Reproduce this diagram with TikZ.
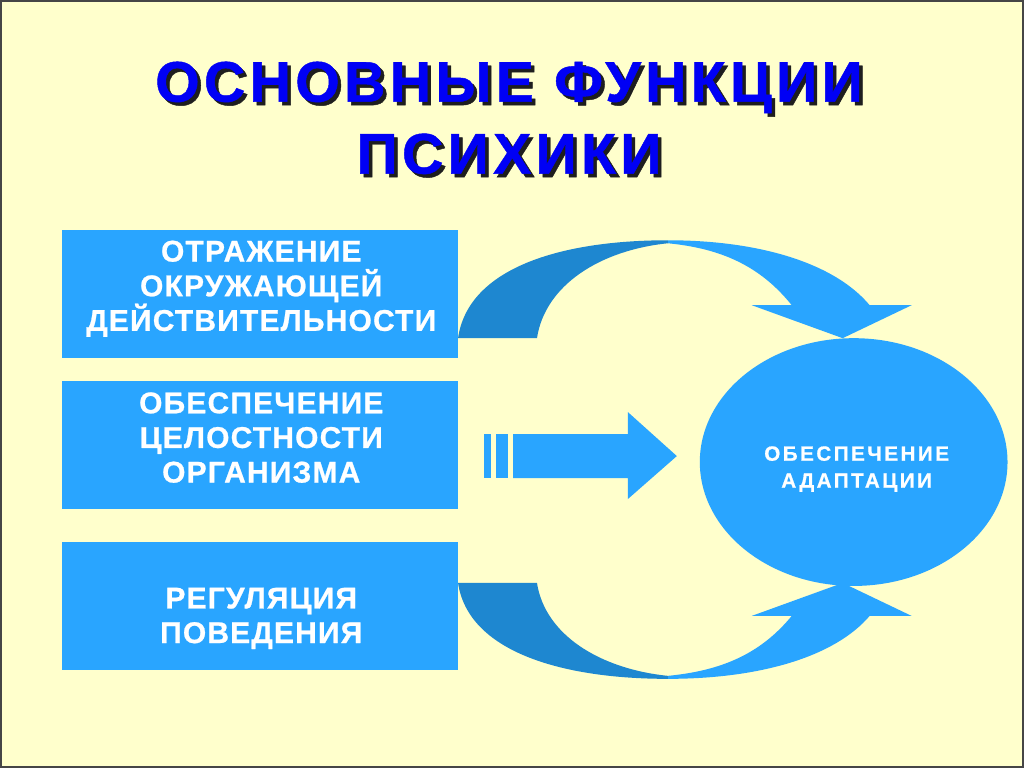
\documentclass[tikz,border=0pt]{standalone}
\usepackage{fontspec}
\setmainfont{Liberation Sans}
\newfontfamily\titlefont{Liberation Sans}[LetterSpace=7.5, BoldFeatures={FakeBold=0.8}]
\newfontfamily\boxfont{Liberation Sans}[LetterSpace=4, BoldFeatures={FakeBold=0.8}]
\newfontfamily\ellfont{Liberation Sans}[LetterSpace=12, BoldFeatures={FakeBold=0.8}]
\usetikzlibrary{shapes.geometric}
\definecolor{bg}{RGB}{255,255,204}
\definecolor{boxblue}{RGB}{41,165,255}
\definecolor{darkblue}{RGB}{30,135,208}
\definecolor{titleblue}{RGB}{0,0,245}
\definecolor{shadowc}{RGB}{30,30,30}
\definecolor{framec}{RGB}{70,70,70}
\tikzset{
  funcbox/.style={rectangle, fill=boxblue, draw=none, inner sep=0pt, minimum width=297pt, minimum height=96pt},
  boxtext/.style={text=white, align=center, font=\boxfont\bfseries\fontsize{22.5pt}{26pt}\selectfont, inner sep=0pt},
  titletext/.style={align=center, font=\titlefont\bfseries\fontsize{43pt}{54pt}\selectfont, inner sep=0pt},
  ribbonlight/.style={fill=boxblue, draw=none},
  ribbondark/.style={fill=darkblue, draw=none}
}
\begin{document}
\begin{tikzpicture}[x=0.75pt, y=-0.75pt]
% background and frame
\fill[bg] (0,0) rectangle (1024,768);
\draw[framec, line width=1.5pt] (0.5,0.5) rectangle (1023.5,767.5);
\useasboundingbox (0,0) rectangle (1024,768);

% title with shadow
\node[titletext, text=shadowc] (titleshadow) at (512.5,121) {ОСНОВНЫЕ ФУНКЦИИ\\ПСИХИКИ};
\node[titletext, text=titleblue] (title) at (509,117.5) {ОСНОВНЫЕ ФУНКЦИИ\\ПСИХИКИ};

% boxes
\node[funcbox] (b1) at (260,294) {};
\node[funcbox] (b2) at (260,445) {};
\node[funcbox] (b3) at (260,606.5) {};
\node[boxtext] (t1) at (261,288.5) {ОТРАЖЕНИЕ\\ОКРУЖАЮЩЕЙ\\ДЕЙСТВИТЕЛЬНОСТИ};
\node[boxtext] (t2) at (261,437.5) {ОБЕСПЕЧЕНИЕ\\ЦЕЛОСТНОСТИ\\ОРГАНИЗМА};
\node[boxtext] (t3) at (261,618.5) {РЕГУЛЯЦИЯ\\ПОВЕДЕНИЯ};

% ellipse
\node[ellipse, fill=boxblue, draw=none, inner sep=0pt, minimum width=231pt, minimum height=186pt] (el) at (854,462) {};
\node[text=white, align=center, inner sep=0pt, font=\ellfont\bfseries\fontsize{15.5pt}{20.25pt}\selectfont] (eltext) at (857,469) {ОБЕСПЕЧЕНИЕ\\АДАПТАЦИИ};

% top curved arrow
\fill[ribbonlight] (668,240) .. controls (760,240) and (835,263) .. (870,305)
  -- (912,305) -- (843,338) -- (752,305) -- (792,305)
  .. controls (760,265) and (720,248) .. (668,243) -- cycle;
\fill[ribbondark] (458,338) .. controls (468,268) and (560,240) .. (668,240)
  -- (668,243) .. controls (600,250) and (545,285) .. (537,338) -- cycle;

% bottom curved arrow (mirrored)
\begin{scope}[yshift={-921*0.75pt}, yscale=-1]
\fill[ribbonlight] (668,242) .. controls (760,242) and (835,264) .. (870,305)
  -- (912,305) -- (843,338) -- (752,305) -- (792,305)
  .. controls (760,266) and (720,250) .. (668,245) -- cycle;
\fill[ribbondark] (458,338) .. controls (468,270) and (560,242) .. (668,242)
  -- (668,245) .. controls (600,252) and (545,286) .. (537,338) -- cycle;
\end{scope}

% middle striped arrow
\fill[boxblue] (484,434) rectangle (491,478);
\fill[boxblue] (496,434) rectangle (508,478);
\fill[boxblue] (513,434) -- (628,434) -- (628,412) -- (677,456) -- (628,499) -- (628,478) -- (513,478) -- cycle;
\end{tikzpicture}
\end{document}
